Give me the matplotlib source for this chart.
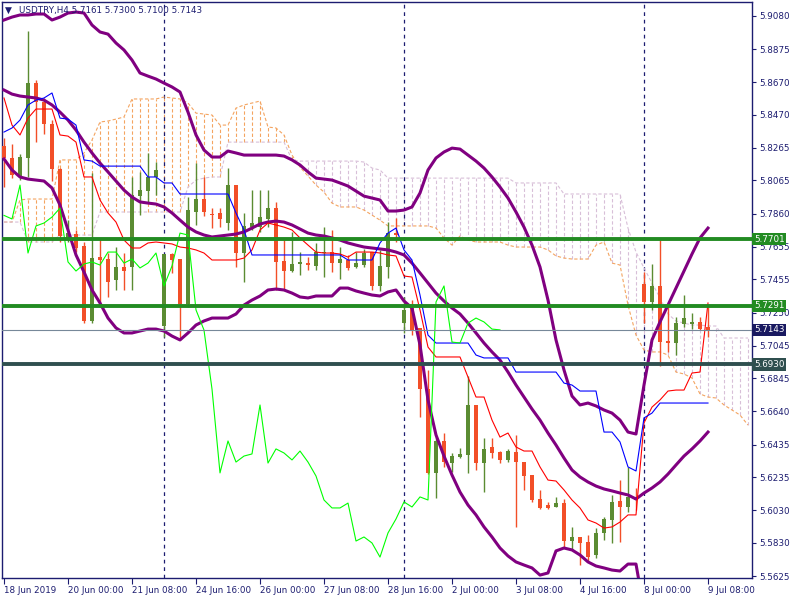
import matplotlib
matplotlib.use("Agg")
import matplotlib.pyplot as plt
import matplotlib.transforms as mtransforms
import numpy as np

symbol = "USDTRY,H4"

# H4 candles, 18 Jun 2019 16:00 .. 9 Jul 2019 08:00
opens = [5.8277, 5.8203, 5.8086, 5.8203, 5.8665, 5.8548, 5.8412, 5.8135, 5.7703, 5.7734,
         5.7660, 5.7198, 5.7592, 5.7580, 5.7451, 5.7531, 5.7531, 5.7968, 5.7999, 5.8086,
         5.7167, 5.7611, 5.7580, 5.7303, 5.7870, 5.7950, 5.7857, 5.7864, 5.7802, 5.8036,
         5.7617, 5.7777, 5.7777, 5.7827, 5.7894, 5.7568, 5.7506, 5.7549, 5.7555, 5.7537,
         5.7617, 5.7623, 5.7555, 5.7574, 5.7531, 5.7543, 5.7623, 5.7414, 5.7531, 5.7740,
         5.7185, 5.7278, 5.7155, 5.6778, 5.6261, 5.6458, 5.6322, 5.6359, 5.6372, 5.6680,
         5.6322, 5.6421, 5.6390, 5.6341, 5.6390, 5.6328, 5.6248, 5.6100, 5.6063, 5.6051,
         5.6075, 5.5841, 5.5866, 5.5835, 5.5755, 5.5891, 5.5971, 5.6088, 5.6051, 5.6113,
         5.7426, 5.7315, 5.7414, 5.7074, 5.7062, 5.7179, 5.7179, 5.7192, 5.7161]
highs = [5.8326, 5.8289, 5.8227, 5.8986, 5.8684, 5.8573, 5.8437, 5.8141, 5.7820, 5.7759,
         5.7685, 5.8110, 5.7710, 5.7617, 5.7654, 5.7617, 5.8086, 5.8117, 5.8234, 5.8178,
         5.7611, 5.7617, 5.7580, 5.7962, 5.8172, 5.8086, 5.7894, 5.7894, 5.8141, 5.8036,
         5.7864, 5.8005, 5.8005, 5.8005, 5.7932, 5.7697, 5.7747, 5.7623, 5.7592, 5.7679,
         5.7777, 5.7759, 5.7654, 5.7605, 5.7623, 5.7642, 5.7623, 5.7636, 5.7808, 5.7833,
         5.7346, 5.7327, 5.7155, 5.6896, 5.6482, 5.6507, 5.6384, 5.6415, 5.6859, 5.6680,
         5.6476, 5.6476, 5.6396, 5.6409, 5.6495, 5.6328, 5.6248, 5.6156, 5.6082, 5.6113,
         5.6100, 5.5928, 5.5866, 5.5878, 5.5921, 5.5989, 5.6125, 5.6217, 5.6298, 5.6168,
         5.7500, 5.7549, 5.7697, 5.7290, 5.7222, 5.7358, 5.7247, 5.7222, 5.7300]
lows = [5.8024, 5.8079, 5.8067, 5.8086, 5.8301, 5.8351, 5.8061, 5.7685, 5.7685, 5.7623,
        5.7185, 5.7185, 5.7284, 5.7346, 5.7389, 5.7389, 5.7389, 5.7851, 5.7925, 5.7975,
        5.7099, 5.7494, 5.7081, 5.7284, 5.7790, 5.7845, 5.7771, 5.7777, 5.7759, 5.7531,
        5.7438, 5.7759, 5.7747, 5.7777, 5.7389, 5.7389, 5.7500, 5.7481, 5.7512, 5.7512,
        5.7469, 5.7500, 5.7457, 5.7512, 5.7525, 5.7531, 5.7389, 5.7383, 5.7463, 5.7685,
        5.7124, 5.7111, 5.6606, 5.6255, 5.6106, 5.6298, 5.6267, 5.6353, 5.6261, 5.6279,
        5.6143, 5.6353, 5.6322, 5.6328, 5.5928, 5.6156, 5.6082, 5.6038, 5.6038, 5.6051,
        5.5804, 5.5786, 5.5693, 5.5712, 5.5736, 5.5847, 5.5829, 5.5835, 5.6020, 5.6032,
        5.7185, 5.7266, 5.6920, 5.7007, 5.6988, 5.7161, 5.7148, 5.7142, 5.7100]
closes = [5.8203, 5.8098, 5.8209, 5.8665, 5.8548, 5.8412, 5.8135, 5.7722, 5.7740, 5.7648,
          5.7198, 5.7586, 5.7574, 5.7438, 5.7531, 5.7506, 5.7975, 5.8005, 5.8086, 5.8129,
          5.7611, 5.7574, 5.7303, 5.7882, 5.7950, 5.7870, 5.7849, 5.7827, 5.8036, 5.7617,
          5.7784, 5.7802, 5.7839, 5.7894, 5.7562, 5.7506, 5.7549, 5.7562, 5.7543, 5.7623,
          5.7623, 5.7555, 5.7580, 5.7525, 5.7555, 5.7617, 5.7414, 5.7537, 5.7740, 5.7728,
          5.7266, 5.7142, 5.6778, 5.6261, 5.6458, 5.6328, 5.6365, 5.6378, 5.6680, 5.6322,
          5.6409, 5.6384, 5.6341, 5.6396, 5.6328, 5.6242, 5.6094, 5.6045, 5.6045, 5.6075,
          5.5841, 5.5866, 5.5829, 5.5742, 5.5891, 5.5977, 5.6082, 5.6051, 5.6113, 5.6094,
          5.7315, 5.7414, 5.7068, 5.7062, 5.7185, 5.7216, 5.7192, 5.7148, 5.7143]

# Bollinger bands
bb_upper = [5.9054, 5.9072, 5.9085, 5.9085, 5.9091, 5.9091, 5.9054, 5.9072, 5.9097, 5.9103,
            5.9097, 5.9023, 5.8980, 5.8967, 5.8912, 5.8869, 5.8807, 5.8727, 5.8708, 5.8690,
            5.8665, 5.8641, 5.8610, 5.8486, 5.8345, 5.8252, 5.8209, 5.8209, 5.8246, 5.8234,
            5.8221, 5.8221, 5.8221, 5.8221, 5.8221, 5.8215, 5.8191, 5.8160, 5.8117, 5.8079,
            5.8073, 5.8067, 5.8049, 5.8030, 5.7999, 5.7968, 5.7956, 5.7944, 5.7876, 5.7876,
            5.7882, 5.7901, 5.7987, 5.8129, 5.8203, 5.8240, 5.8264, 5.8258, 5.8221, 5.8184,
            5.8141, 5.8086, 5.8024, 5.7956, 5.7870, 5.7777, 5.7666, 5.7531, 5.7327, 5.7081,
            5.6896, 5.6735, 5.6680, 5.6692, 5.6674, 5.6649, 5.6630, 5.6587, 5.6513, 5.6501,
            5.6803, 5.7081, 5.7192, 5.7296, 5.7401, 5.7506, 5.7611, 5.7710, 5.7771]
bb_middle = [5.8622, 5.8597, 5.8585, 5.8579, 5.8573, 5.8560, 5.8530, 5.8486, 5.8437, 5.8375,
             5.8301, 5.8234, 5.8172, 5.8117, 5.8061, 5.8005, 5.7962, 5.7932, 5.7925, 5.7919,
             5.7901, 5.7864, 5.7820, 5.7777, 5.7747, 5.7728, 5.7716, 5.7722, 5.7728, 5.7734,
             5.7747, 5.7771, 5.7796, 5.7808, 5.7814, 5.7808, 5.7790, 5.7765, 5.7740, 5.7728,
             5.7722, 5.7710, 5.7697, 5.7679, 5.7666, 5.7654, 5.7648, 5.7642, 5.7636, 5.7623,
             5.7605, 5.7555, 5.7494, 5.7432, 5.7370, 5.7321, 5.7278, 5.7241, 5.7185, 5.7124,
             5.7062, 5.7007, 5.6957, 5.6883, 5.6803, 5.6729, 5.6655, 5.6587, 5.6507, 5.6433,
             5.6353, 5.6279, 5.6236, 5.6205, 5.6180, 5.6162, 5.6150, 5.6137, 5.6125, 5.6100,
             5.6137, 5.6168, 5.6205, 5.6254, 5.6310, 5.6365, 5.6409, 5.6458, 5.6513]
bb_lower = [5.8197, 5.8129, 5.8086, 5.8073, 5.8067, 5.8061, 5.8018, 5.7913, 5.7759, 5.7605,
            5.7500, 5.7389, 5.7309, 5.7216, 5.7155, 5.7124, 5.7124, 5.7136, 5.7148, 5.7148,
            5.7136, 5.7105, 5.7081, 5.7124, 5.7173, 5.7198, 5.7216, 5.7216, 5.7216, 5.7241,
            5.7296, 5.7327, 5.7352, 5.7389, 5.7395, 5.7389, 5.7370, 5.7346, 5.7340, 5.7352,
            5.7352, 5.7352, 5.7401, 5.7401, 5.7383, 5.7370, 5.7358, 5.7352, 5.7377, 5.7389,
            5.7321, 5.7278, 5.7050, 5.6711, 5.6495, 5.6365, 5.6248, 5.6143, 5.6063, 5.6002,
            5.5928, 5.5866, 5.5798, 5.5749, 5.5712, 5.5693, 5.5675, 5.5631, 5.5644, 5.5780,
            5.5798, 5.5786, 5.5755, 5.5712, 5.5687, 5.5675, 5.5662, 5.5656, 5.5699, 5.5699,
            5.5416]

# Ichimoku
tenkan = [5.8573, 5.8406, 5.8345, 5.8449, 5.8505, 5.8505, 5.8505, 5.8345, 5.8338, 5.8301,
          5.8086, 5.8086, 5.7944, 5.7864, 5.7808, 5.7697, 5.7648, 5.7648, 5.7679, 5.7685,
          5.7679, 5.7673, 5.7654, 5.7648, 5.7636, 5.7617, 5.7574, 5.7574, 5.7574, 5.7574,
          5.7586, 5.7636, 5.7759, 5.7802, 5.7790, 5.7777, 5.7759, 5.7710, 5.7666, 5.7623,
          5.7617, 5.7617, 5.7611, 5.7592, 5.7623, 5.7623, 5.7623, 5.7617, 5.7605, 5.7599,
          5.7475, 5.7469, 5.7266, 5.7037, 5.6976, 5.6976, 5.6976, 5.6976, 5.6852, 5.6729,
          5.6729, 5.6587, 5.6482, 5.6507, 5.6421, 5.6396, 5.6396, 5.6298, 5.6217, 5.6211,
          5.6156, 5.6094, 5.6045, 5.5971, 5.5952, 5.5921, 5.5928, 5.5958, 5.6002, 5.6002,
          5.6569, 5.6667, 5.6711, 5.6766, 5.6772, 5.6772, 5.6877, 5.6883, 5.7309]
kijun = [5.8363, 5.8388, 5.8437, 5.8530, 5.8560, 5.8573, 5.8604, 5.8449, 5.8443, 5.8406,
         5.8191, 5.8184, 5.8153, 5.8153, 5.8153, 5.8153, 5.8153, 5.8153, 5.8086, 5.8086,
         5.8049, 5.8049, 5.7981, 5.7981, 5.7981, 5.7981, 5.7981, 5.7981, 5.7981, 5.7864,
         5.7759, 5.7605, 5.7605, 5.7605, 5.7605, 5.7605, 5.7605, 5.7605, 5.7605, 5.7605,
         5.7605, 5.7605, 5.7605, 5.7574, 5.7574, 5.7574, 5.7574, 5.7679, 5.7740, 5.7771,
         5.7636, 5.7574, 5.7358, 5.7111, 5.7062, 5.7062, 5.7062, 5.7062, 5.7062, 5.6988,
         5.6970, 5.6970, 5.6970, 5.6970, 5.6883, 5.6883, 5.6883, 5.6883, 5.6883, 5.6883,
         5.6815, 5.6803, 5.6766, 5.6766, 5.6766, 5.6513, 5.6513, 5.6452, 5.6298, 5.6273,
         5.6600, 5.6630, 5.6692, 5.6692, 5.6692, 5.6692, 5.6692, 5.6692, 5.6692]
span_a = [5.7808, 5.7808, 5.7944, 5.7950, 5.7950, 5.7950, 5.7950, 5.8191, 5.8191, 5.8191,
          5.8234, 5.8314, 5.8425, 5.8431, 5.8443, 5.8456, 5.8567, 5.8567, 5.8567, 5.8567,
          5.8579, 5.8573, 5.8567, 5.8542, 5.8480, 5.8474, 5.8468, 5.8406, 5.8406, 5.8511,
          5.8530, 5.8542, 5.8554, 5.8394, 5.8388, 5.8345, 5.8221, 5.8147, 5.8092, 5.8036,
          5.7993, 5.7925, 5.7901, 5.7901, 5.7901, 5.7882, 5.7851, 5.7820, 5.7784, 5.7784,
          5.7784, 5.7784, 5.7784, 5.7784, 5.7771, 5.7710, 5.7666, 5.7722, 5.7697, 5.7685,
          5.7685, 5.7685, 5.7685, 5.7666, 5.7654, 5.7654, 5.7654, 5.7654, 5.7636, 5.7599,
          5.7586, 5.7580, 5.7580, 5.7580, 5.7666, 5.7685, 5.7555, 5.7543, 5.7296, 5.7111,
          5.7019, 5.7007, 5.7007, 5.6988, 5.6883, 5.6871, 5.6846, 5.6748, 5.6729, 5.6723,
          5.6680, 5.6649, 5.6618, 5.6556]
span_b = [5.7808, 5.7808, 5.7808, 5.7685, 5.7685, 5.7685, 5.7685, 5.7728, 5.7728, 5.7728,
          5.7728, 5.7728, 5.7870, 5.7870, 5.7870, 5.7870, 5.7870, 5.7870, 5.7870, 5.7870,
          5.7870, 5.7870, 5.7870, 5.8024, 5.8067, 5.8079, 5.8086, 5.8086, 5.8301, 5.8301,
          5.8301, 5.8301, 5.8301, 5.8301, 5.8301, 5.8301, 5.8191, 5.8184, 5.8184, 5.8184,
          5.8184, 5.8184, 5.8184, 5.8184, 5.8184, 5.8178, 5.8141, 5.8129, 5.8079, 5.8079,
          5.8079, 5.8079, 5.8079, 5.8079, 5.8079, 5.8079, 5.8079, 5.8079, 5.8079, 5.8079,
          5.8079, 5.8079, 5.8079, 5.8079, 5.8049, 5.8049, 5.8049, 5.8049, 5.8049, 5.8049,
          5.7981, 5.7981, 5.7981, 5.7981, 5.7981, 5.7981, 5.7981, 5.7981, 5.7771, 5.7623,
          5.7525, 5.7432, 5.7340, 5.7241, 5.7198, 5.7185, 5.7173, 5.7173, 5.7167, 5.7167,
          5.7093, 5.7093, 5.7093, 5.7093]
chikou_shift = 26

# horizontal levels drawn on the chart
levels = [5.7701, 5.7291, 5.6930]
level_colors = ["#228b22", "#228b22", "#2f4f4f"]

price_ticks = [5.9080, 5.8875, 5.8670, 5.8470, 5.8265, 5.8065, 5.7860, 5.7655, 5.7455,
               5.7250, 5.7045, 5.6845, 5.6640, 5.6435, 5.6235, 5.6030, 5.5830, 5.5625]
time_ticks = [0, 8, 16, 24, 32, 40, 48, 56, 64, 72, 80, 88]
time_labels = ["18 Jun 2019", "20 Jun 00:00", "21 Jun 08:00", "24 Jun 16:00", "26 Jun 00:00",
               "27 Jun 08:00", "28 Jun 16:00", "2 Jul 00:00", "3 Jul 08:00", "4 Jul 16:00",
               "8 Jul 00:00", "9 Jul 08:00"]
week_starts = [20, 50, 80]

navy = "#1c1c70"
bull_col = "#5b8c32"
bear_col = "#f24f28"
fs = 6.3

fig = plt.figure(figsize=(8, 6), dpi=100)
ax = fig.add_axes([2 / 800, 22 / 600, 750 / 800, 576 / 600])

o = np.array(opens); h = np.array(highs); l = np.array(lows); c = np.array(closes)
x = np.arange(len(o))

# cloud hatching
sa = np.array(span_a); sb = np.array(span_b)
xc = np.arange(len(sa))
hatch_cols = np.where(sa >= sb, "#f4a460", "#d8bfd8")
ax.vlines(xc, np.minimum(sa, sb), np.maximum(sa, sb), colors=hatch_cols,
          linestyles=(0, (3, 2)), lw=0.8, zorder=1)
ax.plot(xc, sa, color="#f4a460", ls=(0, (3, 2)), lw=0.8, zorder=1.5)
ax.plot(xc, sb, color="#d8bfd8", ls=(0, (3, 2)), lw=0.8, zorder=1.5)

# period separators
for w in week_starts:
    ax.axvline(w, color=navy, ls=(0, (3, 3)), lw=0.9, zorder=1)

# candles
bull = c >= o
cols = np.where(bull, bull_col, bear_col)
ax.vlines(x, l, h, colors=cols, lw=1, zorder=3)
ax.bar(x, np.maximum(np.abs(c - o), 0.0007), bottom=np.minimum(o, c), width=0.62,
       color=cols, linewidth=0, zorder=4)

# indicators
ax.plot(np.arange(len(bb_upper)), bb_upper, color="#800080", lw=2.2, zorder=5)
ax.plot(np.arange(len(bb_middle)), bb_middle, color="#800080", lw=2.2, zorder=5)
ax.plot(np.arange(len(bb_lower)), bb_lower, color="#800080", lw=2.2, zorder=5)
ax.plot(np.arange(len(tenkan)), tenkan, color="#ff0000", lw=0.8, zorder=5)
ax.plot(np.arange(len(kijun)), kijun, color="#0000ff", lw=0.8, zorder=5)
chikou = c[chikou_shift:]
ax.plot(np.arange(len(chikou)), chikou, color="#00ff00", lw=0.8, zorder=5)

# levels and bid line
blend = mtransforms.blended_transform_factory(ax.transAxes, ax.transData)
for lv, col in zip(levels, level_colors):
    ax.axhline(lv, color=col, lw=2.8, zorder=6)
ax.axhline(closes[-1], color="#778899", lw=0.8, zorder=6)

ax.set_xlim(-0.25, 93.5)
ax.set_ylim(5.5613, 5.9165)

ax.yaxis.tick_right()
ax.set_yticks(price_ticks)
ax.set_yticklabels([f"{p:.4f}" for p in price_ticks])
ax.set_xticks(time_ticks)
ax.set_xticklabels(time_labels, ha="left")
ax.tick_params(axis="y", direction="out", length=3, width=0.8, colors=navy,
               labelsize=fs, pad=2)
ax.tick_params(axis="x", direction="out", length=4, width=0.8, colors=navy,
               labelsize=fs, pad=2)
for sp in ax.spines.values():
    sp.set_color(navy)
    sp.set_linewidth(1)

# price boxes on the axis
for lv, col in zip(levels + [closes[-1]], level_colors + ["#191960"]):
    ax.text(1.0027, lv, f"{lv:.4f}", transform=blend, ha="left", va="center",
            fontsize=fs, color="white", zorder=10, clip_on=False,
            bbox=dict(boxstyle="square,pad=0.18", fc=col, ec="none"))

# header
fig.text(5 / 800, 1 - 10 / 600, "\u25bc", fontsize=6.5, color=navy, va="center")
fig.text(19 / 800, 1 - 10 / 600,
         f"{symbol} {opens[-1]:.4f} {highs[-1]:.4f} {lows[-1]:.4f} {closes[-1]:.4f}",
         fontsize=fs, color=navy, va="center")

fig.savefig("out.png", dpi=100)
